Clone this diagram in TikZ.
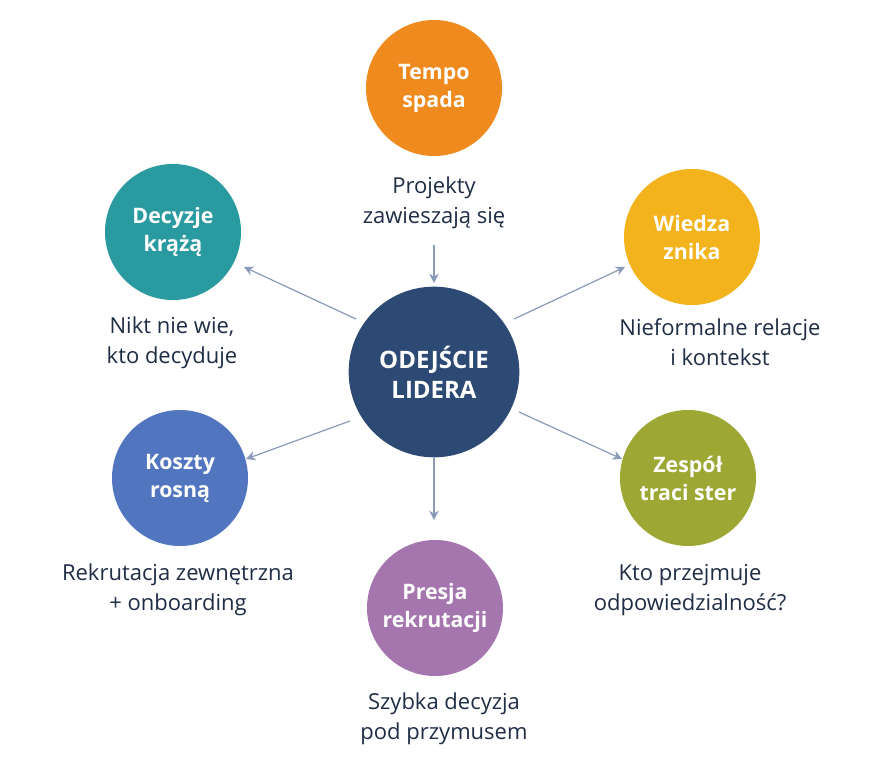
\documentclass[tikz,border=0pt]{standalone}
\usepackage{fontspec}
\setmainfont{Open Sans}
\usetikzlibrary{arrows.meta}
\definecolor{navy}{HTML}{2C4A73}
\definecolor{corange}{HTML}{EF8A1E}
\definecolor{cyellow}{HTML}{F2B31C}
\definecolor{colive}{HTML}{9CA833}
\definecolor{cpurple}{HTML}{A576AE}
\definecolor{cblue}{HTML}{5176BF}
\definecolor{cteal}{HTML}{2A9AA1}
\definecolor{arrowc}{HTML}{8A9BB8}
\definecolor{captc}{HTML}{1F2D45}
\tikzset{
  bubble/.style={circle, inner sep=0pt, minimum size=102pt, text=white, font=\bfseries\fontsize{16}{21}\selectfont, align=center},
  hub/.style={circle, inner sep=0pt, minimum size=128pt, fill=navy, text=white, font=\bfseries\fontsize{18}{22.5}\selectfont, align=center},
  caption/.style={text=captc, font=\fontsize{16.5}{22.5}\selectfont, align=center},
  link/.style={draw=arrowc, line width=0.9pt, -{Stealth[length=7pt,width=7pt]}}
}
\begin{document}
\begin{tikzpicture}[x=0.75pt,y=-0.75pt]
\useasboundingbox[fill=white] (0,0) rectangle (889,767);
\node[hub] (c) at (434,372) {ODEJŚCIE\\LIDERA};
\node[bubble, fill=corange] (tempo) at (434,88) {Tempo\\spada};
\node[bubble, fill=cyellow] (wiedza) at (692,237) {Wiedza\\znika};
\node[bubble, fill=colive] (zespol) at (688,478) {Zespół\\traci ster};
\node[bubble, fill=cpurple] (presja) at (435,608) {Presja\\rekrutacji};
\node[bubble, fill=cblue] (koszty) at (180,478) {Koszty\\rosną};
\node[bubble, fill=cteal] (decyzje) at (173,232) {Decyzje\\krążą};
\node[caption] (t1) at (434,203) {Projekty\\zawieszają się};
\node[caption] (t2) at (720,342) {Nieformalne relacje\\i kontekst};
\node[caption] (t3) at (690,590) {Kto przejmuje\\odpowiedzialność?};
\node[caption] (t4) at (444,719) {Szybka decyzja\\pod przymusem};
\node[caption] (t5) at (178,590) {Rekrutacja zewnętrzna\\+ onboarding};
\node[caption] (t6) at (172,343) {Nikt nie wie,\\kto decyduje};
\coordinate (a1s) at (434,245);
\coordinate (a1e) at (434,283);
\coordinate (a2s) at (514,319);
\coordinate (a2e) at (625,267);
\coordinate (a3s) at (356,319);
\coordinate (a3e) at (244,267);
\coordinate (a4s) at (350,421);
\coordinate (a4e) at (246,459);
\coordinate (a5s) at (519,412);
\coordinate (a5e) at (622,459);
\coordinate (a6s) at (434,458);
\coordinate (a6e) at (434,520);
\draw[link] (a1s) -- (a1e);
\draw[link] (a2s) -- (a2e);
\draw[link] (a3s) -- (a3e);
\draw[link] (a4s) -- (a4e);
\draw[link] (a5s) -- (a5e);
\draw[link] (a6s) -- (a6e);
\end{tikzpicture}
\end{document}
